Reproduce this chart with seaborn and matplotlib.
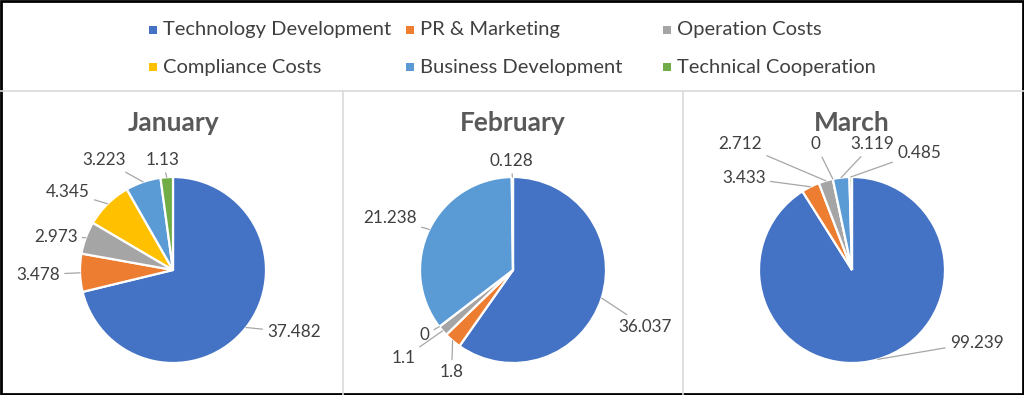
import numpy as np
import matplotlib
matplotlib.use("Agg")
import matplotlib.pyplot as plt
import seaborn as sns
from matplotlib.lines import Line2D
from matplotlib.patches import Rectangle

# ── Data ──────────────────────────────────────────────────────────────────────
categories = ["Technology Development", "PR & Marketing", "Operation Costs",
              "Compliance Costs", "Business Development", "Technical Cooperation"]
months = ["January", "February", "March"]
january  = [37.482, 3.478, 2.973, 4.345, 3.223, 1.13]
february = [36.037, 1.8, 1.1, 0, 21.238, 0.128]
march    = [99.239, 3.433, 2.712, 0, 3.119, 0.485]
labels_jan = ["37.482", "3.478", "2.973", "4.345", "3.223", "1.13"]
labels_feb = ["36.037", "1.8", "1.1", "0", "21.238", "0.128"]
labels_mar = ["99.239", "3.433", "2.712", "0", "3.119", "0.485"]

# label placement (in pie radii, relative to the centre) - Excel "best fit"
lab_pos_jan = [(1.30, -0.67), (-1.45, -0.05), (-1.26, 0.35), (-1.13, 0.84), (-0.74, 1.18), (-0.11, 1.18)]
lab_pos_feb = [(1.42, -0.61), (-0.66, -1.10), (-1.18, -0.95), (-0.95, -0.70), (-1.32, 0.56), (-0.02, 1.17)]
lab_pos_mar = [(1.34, -0.78), (-1.16, 0.99), (-1.20, 1.35), (-0.39, 1.35), (0.22, 1.35), (0.72, 1.26)]

colors = ["#4472C4", "#ED7D31", "#A5A5A5", "#FFC000", "#5B9BD5", "#70AD47"]

sns.set_theme(style="white")
plt.rcParams["font.family"] = ["Lato", "DejaVu Sans"]
palette = sns.color_palette(colors)

W, H = 1024, 395
fig = plt.figure(figsize=(W / 100, H / 100), dpi=100)

R_PX = 93          # pie radius in pixels
TOP_PX = 91        # where the chart panels begin
panels = [(3, 343), (343, 683), (683, 1021)]
centre_y = 270

all_vals = [january, february, march]
all_labs = [labels_jan, labels_feb, labels_mar]
all_pos = [lab_pos_jan, lab_pos_feb, lab_pos_mar]

for (x0, x1), month, vals, labs, lpos in zip(panels, months, all_vals, all_labs, all_pos):
    ax = fig.add_axes([x0 / W, (H - 393) / H, (x1 - x0) / W, (393 - TOP_PX) / H])
    wedges, _ = ax.pie(vals, colors=palette, startangle=90, counterclock=False,
                       radius=1.0, wedgeprops=dict(edgecolor="white", linewidth=1.6))
    cx = (x0 + x1) / 2
    ax.set_xlim(-(cx - x0) / R_PX, (x1 - cx) / R_PX)
    ax.set_ylim(-(393 - centre_y) / R_PX, (centre_y - TOP_PX) / R_PX)
    ax.set_aspect("equal")
    ax.set_axis_off()
    ax.text(0, (centre_y - 123) / R_PX, month, ha="center", va="center",
            fontsize=19, fontweight="bold", color="#595959")
    for w, lab, (tx, ty) in zip(wedges, labs, lpos):
        mid = np.deg2rad((w.theta1 + w.theta2) / 2)
        ax.annotate(lab, xy=(np.cos(mid), np.sin(mid)), xytext=(tx, ty),
                    ha="center", va="center", fontsize=12.3, color="#404040",
                    arrowprops=dict(arrowstyle="-", color="#A6A6A6", lw=0.9,
                                    shrinkA=1, shrinkB=0))

# ── Legend (Excel style, uniform columns) ─────────────────────────────────────
for i, (name, c) in enumerate(zip(categories, colors)):
    col, row = i % 3, i // 3
    mx = 153 + col * 257
    my = 30 + row * 37
    fig.add_artist(Rectangle(((mx - 4) / W, (H - my - 4) / H), 8 / W, 8 / H,
                             transform=fig.transFigure, facecolor=c, edgecolor="none"))
    fig.text((mx + 10) / W, (H - my) / H, name, ha="left", va="center",
             fontsize=14.5, color="#404040")

# ── Frame lines ───────────────────────────────────────────────────────────────
grey = "#D9D9D9"
fig.add_artist(Line2D([0, 1], [(H - TOP_PX) / H] * 2, color=grey, lw=1.2, transform=fig.transFigure))
for xs in (343, 683):
    fig.add_artist(Line2D([xs / W] * 2, [0, (H - TOP_PX) / H], color=grey, lw=1.2, transform=fig.transFigure))
fig.add_artist(Rectangle((0.001, 0.002), 0.998, 0.996, transform=fig.transFigure,
                         fill=False, edgecolor="black", lw=2))

fig.savefig("out.png", dpi=100)
